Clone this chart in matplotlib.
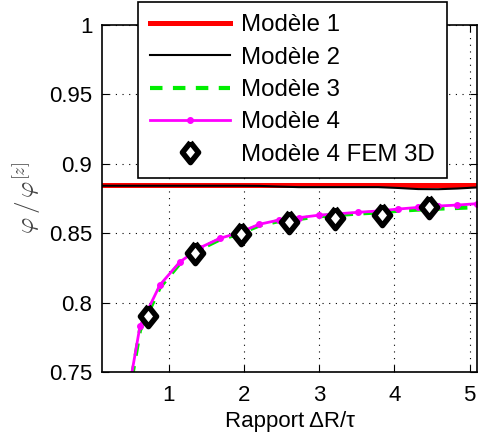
import numpy as np
import matplotlib
matplotlib.use('Agg')
import matplotlib.pyplot as plt

plt.rcParams['font.family'] = ['Liberation Sans', 'DejaVu Sans']
plt.rcParams['mathtext.fontset'] = 'cm'

# abscisse commune (rapport deltaR / tau)
x = [0.0836, 0.349, 0.615, 0.880, 1.146, 1.412, 1.677, 1.943, 2.199, 2.465, 2.730,
     2.996, 3.258, 3.519, 3.785, 4.050, 4.316, 4.582, 4.838, 5.104]

model1 = [0.8845] * 20
model2 = [0.8842, 0.8842, 0.8842, 0.8842, 0.8842, 0.8842, 0.8842, 0.8842, 0.8841, 0.8836, 0.8832,
          0.8832, 0.8832, 0.8832, 0.8832, 0.8826, 0.8818, 0.8817, 0.8822, 0.8830]
model3 = [0.55, 0.696, 0.780, 0.811, 0.8283, 0.8385, 0.8455, 0.8498, 0.8555, 0.8588, 0.8603,
          0.8622, 0.8632, 0.8642, 0.8650, 0.8662, 0.8670, 0.8677, 0.8682, 0.8688]
model4 = [0.55, 0.700, 0.783, 0.8127, 0.8293, 0.8395, 0.8463, 0.8505, 0.8564, 0.8595, 0.8612,
          0.8630, 0.8640, 0.8651, 0.8660, 0.8674, 0.8686, 0.8696, 0.8703, 0.8713]

# points FEM 3D
x_fem = [0.725, 1.345, 1.956, 2.598, 3.214, 3.829, 4.457]
fem = [0.7903, 0.8355, 0.8492, 0.8583, 0.8612, 0.8631, 0.8691]

diamond = [(0, 1), (0.8, 0), (0, -1), (-0.8, 0), (0, 1)]

fig = plt.figure(figsize=(4.78, 4.45), dpi=100)
ax = fig.add_axes([0.2134, 0.1640, 0.7846, 0.7798])

ax.plot(x, model1, color='#ff0000', lw=3.6, label='Modèle 1')
ax.plot(x, model2, color='k', lw=1.5, label='Modèle 2')
ax.plot(x, model3, color='#00ee00', lw=3, ls=(0, (3, 2.5)), label='Modèle 3')
ax.plot(x, model4, color='#ff00ff', lw=2, marker='o', ms=4, label='Modèle 4')
ax.plot(x_fem, fem, ls='none', marker=diamond, ms=14.5, mfc='white', mec='k', mew=4,
        label='Modèle 4 FEM 3D')

ax.set_xlim(0.11, 5.10)
ax.set_ylim(0.75, 1.0)
ax.set_xticks([1, 2, 3, 4, 5])
ax.set_yticks([0.75, 0.8, 0.85, 0.9, 0.95, 1.0])
ax.set_yticklabels(['0.75', '0.8', '0.85', '0.9', '0.95', '1'])
ax.tick_params(direction='in', length=5, labelsize=16, top=True, right=True)
ax.tick_params(axis='x', pad=9)
ax.tick_params(axis='y', pad=7)
ax.grid(True, color='k', lw=0.8, ls=(0, (1, 5)))
for s in ax.spines.values():
    s.set_linewidth(1.2)

ax.set_xlabel('Rapport ΔR/τ', fontsize=16, labelpad=4)
ax.set_ylabel(r'$\varphi\,/\,\varphi^{[z]}$', fontsize=18, color='#444444', labelpad=4)

leg = ax.legend(loc='upper left', bbox_to_anchor=(0.2887, 0.9955), bbox_transform=fig.transFigure,
                fontsize=17.3, frameon=True, fancybox=False, edgecolor='k', framealpha=1,
                handlelength=3.3, handletextpad=0.45, labelspacing=0.43, borderpad=0.52,
                borderaxespad=0)
leg.get_frame().set_linewidth(1.2)

fig.savefig('out.png', dpi=100)
